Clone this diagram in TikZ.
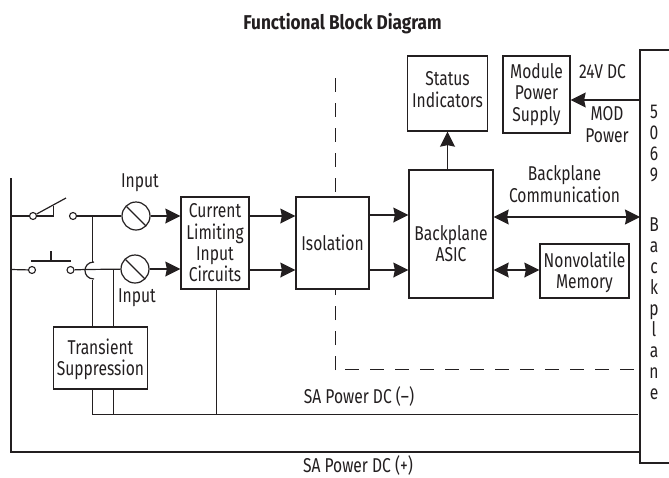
\documentclass[tikz,border=0pt]{standalone}
\usepackage{fontspec}
\setmainfont[FakeStretch=0.78]{Fira Sans}
\usetikzlibrary{arrows.meta}
\definecolor{ink}{HTML}{231F20}
\tikzset{
  x=1pt,y=-1pt,
  wire/.style={draw=ink,line width=1.2pt},
  flow/.style={wire,-{Stealth[length=15pt,width=15pt,inset=1.5pt]}},
  both/.style={wire,{Stealth[length=15pt,width=15pt,inset=1.5pt]}-{Stealth[length=15pt,width=15pt,inset=1.5pt]}},
  block/.style={draw=ink,line width=1.3pt,fill=white,inner sep=0pt,align=center,text=ink,font=\fontsize{20}{21.3}\selectfont},
  lab/.style={inner sep=0pt,align=center,text=ink,font=\fontsize{20}{21.3}\selectfont},
  term/.style={circle,draw=ink,line width=1.1pt,fill=white,minimum size=7pt,inner sep=0pt},
  meter/.style={circle,draw=ink,line width=1.2pt,fill=white,minimum size=28pt,inner sep=0pt},
  isol/.style={draw=ink,line width=1.2pt,dash pattern=on 14pt off 11pt},
}
\begin{document}
\begin{tikzpicture}
\useasboundingbox (0,0) rectangle (669,477);
\node[inner sep=0pt,text=ink,font=\fontsize{20}{22}\selectfont\bfseries\addfontfeature{FakeStretch=0.86}] (title) at (342.5,24) {Functional Block Diagram};
% isolation boundary
\coordinate (dt) at (335.5,78);
\coordinate (dc) at (335.5,370);
\coordinate (dh) at (345,369.5);
\coordinate (de) at (638,369.5);
\draw[isol] (dt) -- (335.5,197);
\draw[isol] (dc) -- (335.5,289);
\draw[isol] (dh) -- (de);
% backplane
\draw[draw=ink,line width=1.3pt] (672,50) -- (640,50) -- (640,463) -- (672,463);
\coordinate (bpN) at (640,100);
\coordinate (bpC) at (640,217);
\coordinate (bpM) at (638,414.5);
\coordinate (bpP) at (640,452);
\node[lab,anchor=north,font=\fontsize{20}{21}\selectfont] (bptext) at (654,105) {5\\0\\6\\9\\[29pt]B\\a\\c\\k\\p\\l\\a\\n\\e};
% blocks
\node[block,minimum width=68pt,minimum height=92pt] (cl) at (215,243) {Current\\Limiting\\Input\\Circuits};
\node[block,minimum width=73pt,minimum height=92pt] (iso) at (332.5,243) {Isolation};
\node[block,minimum width=84pt,minimum height=128pt] (asic) at (451,234) {\rule{0pt}{34pt}Backplane\\ASIC};
\node[block,minimum width=80pt,minimum height=75pt] (status) at (447.5,93.5) {Status\\Indicators\rule[-8pt]{0pt}{1pt}};
\node[block,minimum width=67pt,minimum height=77pt] (mps) at (536.5,94.5) {Module\\Power\\Supply};
\node[block,minimum width=89pt,minimum height=54pt] (nvm) at (584.5,271) {\rule{0pt}{18pt}Nonvolatile\\Memory};
\node[block,minimum width=94pt,minimum height=62pt] (ts) at (100.5,358) {\rule{0pt}{18pt}Transient\\Suppression};
% rail
\coordinate (railT) at (11,178);
\coordinate (railB) at (11,452);
\coordinate (r1) at (11,216);
\coordinate (r2) at (11,269.5);
\draw[wire] (railT) -- (railB) -- (bpP);
% switch 1
\node[term] (t1a) at (33,216) {};
\node[term] (t1b) at (73,216) {};
\node[meter] (m1) at (136,216) {};
\draw[wire] (r1) -- (t1a);
\draw[wire] (t1a) -- (66,198);
\draw[wire] (36,216) -- (53.5,216) -- (53.5,205.5);
\draw[wire] (t1b) -- (m1);
\draw[wire] (126.5,206.5) -- (146,226);
% switch 2
\node[term] (t2a) at (32,270) {};
\node[term] (t2b) at (70.5,270) {};
\node[meter] (m2) at (135,269) {};
\draw[wire] (r2) -- (t2a);
\draw[wire] (31,261) -- (71,261);
\draw[wire] (51,251) -- (51,261);
\coordinate (j1) at (92.5,216);
\coordinate (j2) at (113.5,269.5);
\coordinate (hopT) at (94,262);
\coordinate (hopB) at (94,279);
\draw[wire] (t2b) -- (85,269.5);
\draw[wire] (j1) -- (92.5,262);
\draw[wire] (hopT) .. controls (82,262) and (82,279) .. (hopB);
\draw[wire] (92.5,280) -- (92.5,327);
\draw[wire] (85,269.5) -- (m2);
\draw[wire] (j2) -- (113.5,327);
\draw[wire] (125.5,259.5) -- (145,279);
% arrows
\draw[flow] (m1) -- (cl.west |- m1);
\draw[flow] (m2) -- (cl.west |- m2);
\draw[flow] (249,216) -- (iso.west |- 0,216);
\draw[flow] (249,270) -- (iso.west |- 0,270);
\draw[flow] (iso.east |- 0,215) -- (asic.west |- 0,215);
\draw[flow] (iso.east |- 0,270) -- (asic.west |- 0,270);
\draw[flow] (asic.north -| status) -- (status.south);
\draw[flow] (bpN) -- (mps.east |- bpN);
\draw[both] (asic.east |- bpC) -- (bpC);
\draw[both] (asic.east |- 0,270) -- (nvm.west |- 0,270);
% supply wires
\draw[wire] (92.5,389) -- (92.5,414.5) -- (bpM);
\draw[wire] (113.5,389) -- (113.5,414.5);
\draw[wire] (216.5,289) -- (216.5,414.5);
% labels
\node[lab] (li1) at (140,183) {Input};
\node[lab] (li2) at (137,298) {Input};
\node[lab] (l24) at (602.5,72) {24V DC};
\node[lab] (lmod) at (607,124.5) {MOD\\Power};
\node[lab] (lbc) at (564.5,184) {Backplane\\Communication};
\node[lab] (lsan) at (359,396) {SA Power DC (--)};
\node[lab] (lsap) at (358,465.5) {SA Power DC (+)};
\end{tikzpicture}
\end{document}
